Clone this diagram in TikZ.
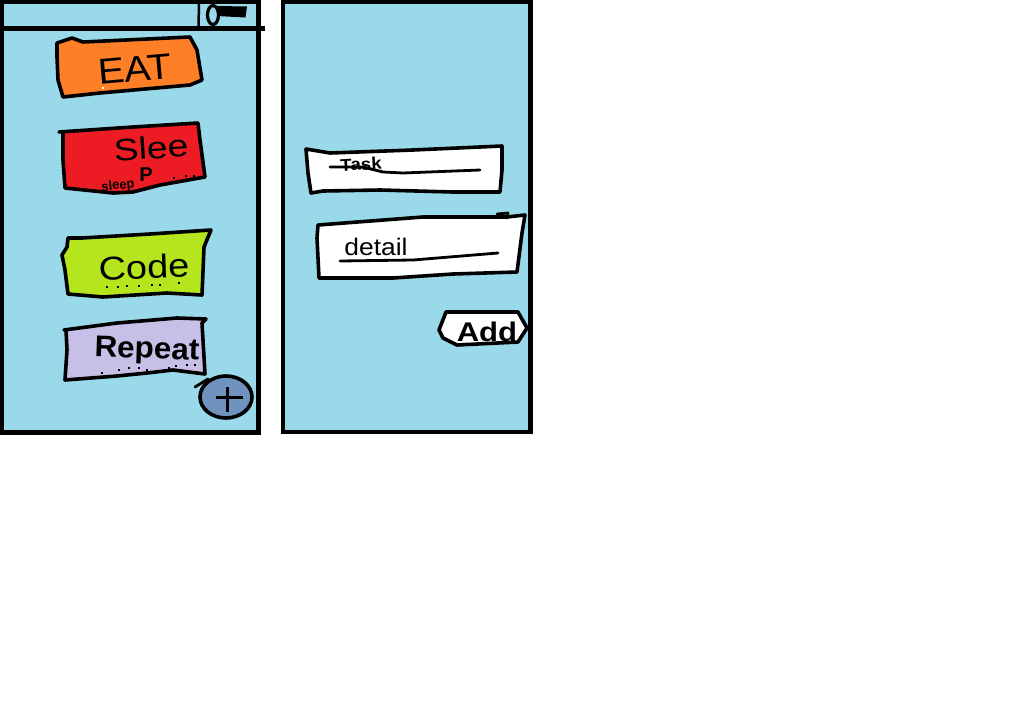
\documentclass[tikz,border=0pt]{standalone}
\usepackage{fontspec}
\setmainfont{Liberation Sans}
\definecolor{screenblue}{HTML}{99D9EA}
\definecolor{eatorange}{HTML}{FF7F27}
\definecolor{sleepred}{HTML}{ED1C24}
\definecolor{codelime}{HTML}{B5E61D}
\definecolor{repeatlilac}{HTML}{C8BFE7}
\definecolor{plusblue}{HTML}{7092BE}
\tikzset{
    screen/.style={draw=black, fill=screenblue, line width=4.5pt},
    sketch/.style={draw=black, line width=3.6pt, line join=round, line cap=round},
    scribble/.style={draw=black, line width=2.8pt, line join=round, line cap=round},
    hand/.style={inner sep=0pt, font=\fontsize{#1}{#1}\selectfont},
    handbold/.style={inner sep=0pt, font=\bfseries\fontsize{#1}{#1}\selectfont},
    speck/.style={fill=black, inner sep=0pt, minimum size=1.8pt},
}
\begin{document}
\begin{tikzpicture}[x=1pt, y=-1pt]
    \useasboundingbox (0,0) rectangle (1034,710);
    % left screen
    \draw[screen] (2,2) rectangle (258.5,432.5);
    \draw[line width=4.5pt] (0,28.5) -- (265,28.5);
    \draw[line width=2.5pt] (199,3) -- (198.5,27);
    \draw[line width=3.2pt] (213,15) ellipse (5.5 and 9.5);
    \fill (217,6) -- (247,6.5) -- (245.5,17.5) -- (217,16) -- cycle;
    % task buttons
    \path[sketch, fill=eatorange] (57,43) -- (72,38) -- (83,42) -- (190,37) -- (197,50) -- (202,80) -- (190,85)
        -- (100,93) -- (63,97) -- (58,80) -- (57,57) -- cycle;
    \path[sketch, fill=sleepred] (59,132) -- (133,127) -- (198,123) -- (200,140) -- (205,177) -- (160,185)
        -- (133,192) -- (113,193) -- (65,188) -- (63,160) -- (63,133);
    \path[sketch, fill=codelime] (68,238) -- (82,238) -- (150,234) -- (211,230) -- (204,247) -- (202,295)
        -- (167,293) -- (103,297) -- (68,294) -- (65,270) -- (62,255) -- (67,247) -- cycle;
    \path[sketch, fill=repeatlilac] (64,330) -- (117,323) -- (177,318) -- (206,319) -- (202,323) -- (205,374)
        -- (173,370) -- (147,373) -- (117,376) -- (65,380) -- (67,350) -- (66,330);
    \node[hand=36, rotate=5, xscale=1.1] (eat) at (135,69) {EAT};
    \node[hand=31, rotate=4, xscale=1.2] (sleep) at (151,148) {Slee};
    \node[handbold=20] (sleepend) at (146,175) {P};
    \node[handbold=13, rotate=6] (sleepnote) at (118,186) {sleep};
    \node[hand=33, rotate=2, xscale=1.15] (code) at (144,267) {Code};
    \node[handbold=30, rotate=-2, xscale=1.05] (repeat) at (147,351) {Repeat};
    \foreach \sx/\sy in {107/287, 118/287, 127/286, 139/286, 152/285, 160/285, 179/283,
            102/373, 119/370, 129/368, 139/368, 147/370, 169/368, 176/366, 187/365, 195/365,
            174/178, 186/176, 194/176, 218/392} {
        \node[speck] at (\sx,\sy) {};
    }
    \node[speck, fill=white] at (103,88) {};
    % plus button
    \path[sketch, fill=plusblue] (226,397) ellipse (26 and 21);
    \draw[scribble] (195,387) -- (208,379);
    \draw[line width=3pt] (227,387) -- (227,412);
    \draw[line width=3pt] (216,397) -- (243,397);
    % right screen
    \draw[screen] (283,2) rectangle (530.5,432);
    \path[sketch, fill=white] (306,149) -- (330,153) -- (413,150) -- (502,146) -- (502,170) -- (500,192)
        -- (453,192) -- (380,190) -- (323,191) -- (311,193) -- (308,173) -- cycle;
    \node[handbold=17, rotate=3, xscale=1.1] (task) at (361,164) {Task};
    \draw[scribble] (330,167) -- (363,167) -- (383,172) -- (403,173) -- (480,170);
    \path[sketch, fill=white] (318,225) -- (423,217) -- (507,217) -- (525,215) -- (522,233) -- (517,272)
        -- (453,274) -- (393,278) -- (319,278) -- (317,238) -- cycle;
    \draw[scribble] (497,214) -- (508,213) -- (507,218);
    \node[hand=24, xscale=1.1] (detail) at (376,247) {detail};
    \draw[scribble] (340,261) -- (413,260) -- (498,253);
    \path[sketch, fill=white] (446,312) -- (518,312) -- (527,328) -- (518,342) -- (457,345) -- (443,338)
        -- (439,330) -- cycle;
    \node[handbold=27, xscale=1.15] (add) at (487,332) {Add};
\end{tikzpicture}
\end{document}
